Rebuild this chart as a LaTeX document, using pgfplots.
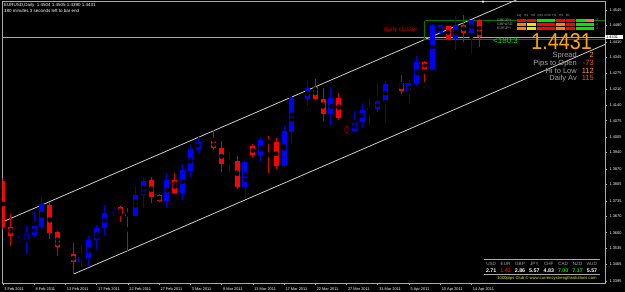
\documentclass[border=0pt]{standalone}
\usepackage{pgfplots}
\usepackage{pgfplotstable}
\pgfplotsset{compat=1.18}
\usepackage{fontspec}
\setmainfont{Liberation Sans}
\definecolor{mtblue}{RGB}{0,0,255}
\definecolor{mtred}{RGB}{255,0,0}
\definecolor{mtgrid}{RGB}{170,170,170}
\definecolor{mtorange}{RGB}{255,165,0}
\definecolor{mtorred}{RGB}{255,80,0}
\definecolor{mtgreen}{RGB}{0,230,0}
\definecolor{mtdkgreen}{RGB}{0,120,0}
\definecolor{mtdkred}{RGB}{190,0,0}
\definecolor{mtyellow}{RGB}{230,230,0}
\definecolor{mtlabel}{RGB}{165,165,165}

\begin{document}
\begin{tikzpicture}[x=1pt,y=1pt]
\path[use as bounding box] (-2.5,-9) rectangle (622.5,283);
\fill[black] (-2.5,-9) rectangle (622.5,283);

\begin{axis}[
  at={(0,0)}, anchor=south west,
  scale only axis, width=602.5pt, height=282pt,
  xmin=-0.05, xmax=77.1, ymin=1.33864, ymax=1.45832,
  axis line style={draw=mtgrid, line width=0.8pt},
  xtick={0,4,...,60},
  xticklabels={3 Feb 2011,8 Feb 2011,13 Feb 2011,17 Feb 2011,22 Feb 2011,27 Feb 2011,3 Mar 2011,8 Mar 2011,13 Mar 2011,17 Mar 2011,22 Mar 2011,27 Mar 2011,31 Mar 2011,5 Apr 2011,10 Apr 2011,14 Apr 2011},
  ytick={1.4545,1.4480,1.4410,1.4345,1.4275,1.4210,1.4140,1.4075,1.4005,1.3940,1.3870,1.3805,1.3735,1.3670,1.3600,1.3535,1.3465,1.3395},
  yticklabels={1.4545,1.4480,1.4410,1.4345,1.4275,1.4210,1.4140,1.4075,1.4005,1.3940,1.3870,1.3805,1.3735,1.3670,1.3600,1.3535,1.3465,1.3395},
  xtick pos=bottom, ytick pos=right, yticklabel pos=right,
  tick align=outside, major tick length=2pt,
  tick style={draw=mtgrid, line width=0.5pt},
  ticklabel style={font=\fontsize{3.9}{4}\selectfont, text=white},
  xticklabel style={anchor=north west, xshift=-2pt, yshift=1pt},
  yticklabel style={anchor=west, xshift=-1pt},
  clip=true,
]
% channel and reference lines
\addplot[draw=white!80!black, line width=0.8pt] coordinates {(0,1.36462) (66,1.45913)};
\addplot[draw=white!80!black, line width=0.8pt] coordinates {(9.07,1.34246) (77.1,1.43988)};
\addplot[draw=mtgrid, line width=0.6pt] coordinates {(-1,1.4431) (78,1.4431)};
\addplot[draw=mtdkgreen, line width=0.9pt] coordinates {(54,1.44996) (54,1.44207) (78,1.44207) (78,1.44996) (54,1.44996)};

% bullish candles
\pgfplotstableread{
x o h l c
2 1.3561 1.3586 1.3556 1.3574
3 1.3574 1.3629 1.3509 1.3595
4 1.3590 1.3692 1.3582 1.3629
5 1.3624 1.3747 1.3612 1.3722
8 1.3501 1.3527 1.3497 1.3509
10 1.3476 1.3548 1.3454 1.3497
11 1.3493 1.3586 1.3459 1.3569
12 1.3569 1.3633 1.3531 1.3620
13 1.3620 1.3717 1.3590 1.3683
14 1.3700 1.3713 1.3683 1.3709
17 1.3671 1.3794 1.3671 1.3760
18 1.3760 1.3836 1.3705 1.3819
21 1.3734 1.3853 1.3709 1.3824
23 1.3768 1.3891 1.3743 1.3866
24 1.3862 1.3972 1.3832 1.3955
25 1.3955 1.4006 1.3938 1.3985
26 1.3985 1.4002 1.3985 1.3989
29 1.3896 1.3942 1.3853 1.3904
31 1.3794 1.3900 1.3747 1.3900
33 1.3930 1.4006 1.3900 1.3993
36 1.3883 1.4053 1.3883 1.4031
37 1.4027 1.4180 1.3981 1.4176
39 1.4167 1.4244 1.4138 1.4214
42 1.4104 1.4218 1.4053 1.4172
45 1.4031 1.4116 1.4027 1.4070
46 1.4070 1.4150 1.4044 1.4121
47 1.4121 1.4167 1.4053 1.4129
48 1.4125 1.4231 1.4112 1.4159
49 1.4155 1.4244 1.4065 1.4231
50 1.4227 1.4239 1.4218 1.4235
52 1.4201 1.4248 1.4150 1.4235
53 1.4231 1.4350 1.4222 1.4324
55 1.4295 1.4486 1.4290 1.4481
56 1.4447 1.4481 1.4447 1.4481
58 1.4422 1.4520 1.4375 1.4481
60 1.4447 1.4503 1.4363 1.4503
}\bull
\pgfplotstableread{
x o h l c
0 1.3819 1.3832 1.3612 1.3624
1 1.3624 1.3679 1.3544 1.3586
6 1.3717 1.3730 1.3574 1.3599
7 1.3603 1.3607 1.3501 1.3539
9 1.3509 1.3556 1.3425 1.3476
15 1.3709 1.3713 1.3646 1.3679
16 1.3679 1.3705 1.3523 1.3675
19 1.3824 1.3836 1.3726 1.3751
20 1.3760 1.3764 1.3730 1.3734
22 1.3824 1.3853 1.3764 1.3768
27 1.3989 1.4036 1.3951 1.3959
28 1.3959 1.3989 1.3857 1.3891
30 1.3904 1.3925 1.3785 1.3794
32 1.3968 1.3976 1.3921 1.3930
34 1.3989 1.4010 1.3853 1.3985
35 1.3985 1.4002 1.3870 1.3883
38 1.4176 1.4184 1.4163 1.4167
40 1.4218 1.4252 1.4163 1.4167
41 1.4167 1.4214 1.4074 1.4104
43 1.4172 1.4193 1.4078 1.4087
44 1.4044 1.4053 1.4023 1.4031
51 1.4235 1.4269 1.4189 1.4201
54 1.4324 1.4329 1.4239 1.4295
57 1.4477 1.4477 1.4422 1.4422
59 1.4481 1.4524 1.4409 1.4447
61 1.4504 1.4505 1.4390 1.4431
}\bear

% wicks
\addplot[only marks, mark=none, error bars/.cd, y dir=both, y explicit, error mark=none,
  error bar style={draw=mtblue!85!black, line width=0.9pt}]
  table[x=x, y expr={(\thisrow{h}+\thisrow{l})/2}, y error expr={(\thisrow{h}-\thisrow{l})/2}] {\bull};
\addplot[only marks, mark=none, error bars/.cd, y dir=both, y explicit, error mark=none,
  error bar style={draw=mtred!85!black, line width=0.9pt}]
  table[x=x, y expr={(\thisrow{h}+\thisrow{l})/2}, y error expr={(\thisrow{h}-\thisrow{l})/2}] {\bear};
% bodies
\addplot[only marks, mark=none, error bars/.cd, y dir=both, y explicit, error mark=none,
  error bar style={draw=mtblue, line width=5pt}]
  table[x=x, y expr={(\thisrow{o}+\thisrow{c})/2}, y error expr={max(abs(\thisrow{c}-\thisrow{o})/2,0.0001)}] {\bull};
\addplot[only marks, mark=none, error bars/.cd, y dir=both, y explicit, error mark=none,
  error bar style={draw=mtred, line width=5pt}]
  table[x=x, y expr={(\thisrow{o}+\thisrow{c})/2}, y error expr={max(abs(\thisrow{c}-\thisrow{o})/2,0.0001)}] {\bear};
\end{axis}

% header
\node[anchor=west, text=white, font=\fontsize{4.5}{5}\selectfont, inner sep=0] at (1.5,277.5) {EURUSD,Daily\ \ 1.4504 1.4505 1.4390 1.4431};
\node[anchor=west, text=white, font=\fontsize{4.5}{5}\selectfont, inner sep=0] at (1.5,272.5) {180 minutes 3 seconds left to bar end};
% small anchor marker at top
\fill[white] (480.5,280.2) -- (481.7,281.4) -- (480.5,282.6) -- (479.3,281.4) -- cycle;

% current price box
\fill[white] (602.5,243.5) rectangle (620.5,248);
\node[anchor=west, text=black, font=\fontsize{3.9}{4}\selectfont, inner sep=0] at (603.5,245.8) {1.4431};

% daily cluster
\node[anchor=west, text=mtdkred, font=\fontsize{6.3}{7}\selectfont, inner sep=0] at (381.5,253) {daily cluster};
\node[anchor=west, text=mtgreen, font=\fontsize{8}{9}\selectfont, inner sep=0] at (490.5,242.5) {<180:3};
\node[anchor=base east, text=mtorange, font=\fontsize{23}{24}\selectfont, inner sep=0, text depth=0pt, xscale=0.86] at (589.5,233.5) {1.4431};

% info lines
\foreach \lab/\val/\col/\yy in {Spread/2/mtorange/225, Pips to Open/-73/mtorred/217, Hi to Low/112/mtorange/209.5, Daily Av/115/mtorred/202}{
  \node[anchor=base east, text=mtlabel, font=\fontsize{7.5}{8}\selectfont, inner sep=0, text height=5.4pt] at (574.5,\yy) {\lab};
  \node[anchor=base east, text=\col, font=\fontsize{7.5}{8}\selectfont, inner sep=0, text height=5.4pt] at (591.5,\yy) {\val};
}

% signal panel
\node[anchor=west, text=mtlabel, font=\fontsize{3.2}{3.5}\selectfont, inner sep=0] at (514.5,267.3) {sig\ \ \ m1\ \ \ m5\ \ m15\ m30\ \ H1\ \ \ H4\ \ \ D1};
\foreach \r/\yy in {GBPJPY/262.3, GBPUSD/258.3, EURJPY/254.3}{
  \node[anchor=west, text=mtlabel, font=\fontsize{3.6}{4}\selectfont, inner sep=0] at (494.5,\yy) {\r};
}
\foreach \i/\c in {0/mtred,1/mtred,2/mtgreen,3/mtgreen,4/mtred,5/mtred,6/mtgreen,7/mtred!60!white}{
  \fill[\c] (514.5+\i*9.75,261) rectangle (523.5+\i*9.75,263.6);
}
\foreach \i/\c in {0/orange,1/mtyellow,2/mtred,3/mtred,4/orange,5/mtred,6/mtgreen,7/mtgreen}{
  \fill[\c] (514.5+\i*9.75,257) rectangle (523.5+\i*9.75,259.6);
}
\foreach \i/\c in {0/orange,1/mtyellow,2/mtred,3/mtred,4/orange,5/mtred,6/mtgreen,7/mtgreen}{
  \fill[\c] (514.5+\i*9.75,253) rectangle (523.5+\i*9.75,255.6);
}
\foreach \v/\yy in {2/262.3,1/258.3,1/254.3}{
  \node[anchor=west, text=mtlabel, font=\fontsize{3.6}{4}\selectfont, inner sep=0] at (593.5,\yy) {\v};
}

% currency strength panel
\draw[mtgrid, line width=0.6pt] (481.5,24) -- (597.5,24);
\draw[mtgrid, line width=0.6pt] (481.5,8.5) -- (597.5,8.5);
\foreach \i/\cur/\val/\col in {0/USD/2.71/white,1/EUR/1.43/mtred,2/GBP/2.86/white,3/JPY/5.57/white,4/CHF/4.83/white,5/CAD/7.00/mtgreen,6/NZD/7.17/mtgreen,7/AUD/5.57/white}{
  \node[text=mtlabel, font=\fontsize{4.6}{5}\selectfont, inner sep=0] at (488.7+\i*14.4,19) {\cur};
  \node[text=\col, font=\bfseries\fontsize{5.3}{6}\selectfont, inner sep=0] at (488.7+\i*14.4,12.5) {\val};
}
\node[text=mtyellow, font=\fontsize{4.2}{5}\selectfont, inner sep=0] at (544.5,4.5) {1000pips Club \textcopyright\ www.currencystrengthsolutions.com};
\end{tikzpicture}
\end{document}
